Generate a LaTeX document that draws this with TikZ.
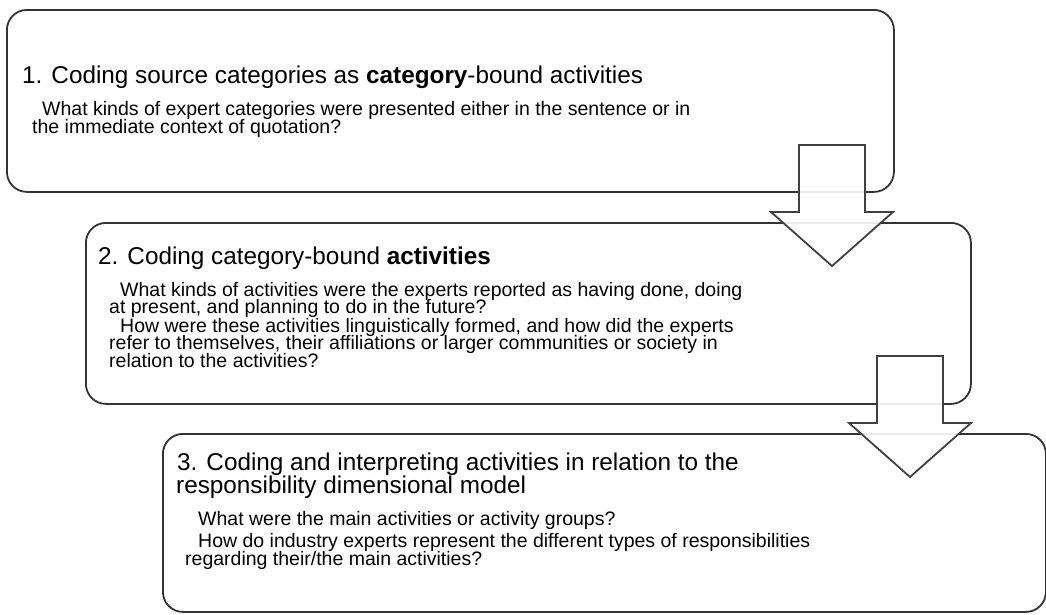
\documentclass[tikz,border=0pt]{standalone}
\usepackage{fontspec}
\setmainfont{Liberation Sans}
\usetikzlibrary{positioning}

\tikzset{
  stage/.style={draw=black!80, line width=1.8pt, rounded corners=20pt, anchor=north west, inner sep=0pt},
  blockarrow/.style={draw=black!75, line width=1.8pt, fill=white, fill opacity=0.9},
  headtext/.style={anchor=base west, inner sep=0pt, font=\fontsize{24.3}{28}\selectfont},
  bodytext/.style={anchor=base west, inner sep=0pt, font=\fontsize{19.5}{22}\selectfont},
}

\begin{document}
\begin{tikzpicture}[x=1pt,y=-1pt]
\useasboundingbox (0,0) rectangle (1046,614);

% the three stages
\node[stage, minimum width=887pt, minimum height=182pt](box1) at (6,9){};
\node[stage, minimum width=885pt, minimum height=181pt](box2) at (85,222){};
\node[stage, minimum width=883pt, minimum height=178pt](box3) at (162,433){};

% stage 1
\node[headtext](h1) at (22,83){1. Coding source categories as \textbf{category}-bound activities};
\node[bodytext](q1a) at (42,115){What kinds of expert categories were presented either in the sentence or in};
\node[bodytext](q1b) at (32,133){the immediate context of quotation?};

% stage 2
\node[headtext](h2) at (98,264){2. Coding category-bound \textbf{activities}};
\node[bodytext](q2a) at (120,296){What kinds of activities were the experts reported as having done, doing};
\node[bodytext](q2b) at (109,313){at present, and planning to do in the future?};
\node[bodytext](q2c) at (120,332){How were these activities linguistically formed, and how did the experts};
\node[bodytext](q2d) at (109,349){refer to themselves, their affiliations or larger communities or society in};
\node[bodytext](q2e) at (109,367){relation to the activities?};

% stage 3
\node[headtext](h3a) at (177,470){3. Coding and interpreting activities in relation to the};
\node[headtext](h3b) at (176,493){responsibility dimensional model};
\node[bodytext](q3a) at (198,525){What were the main activities or activity groups?};
\node[bodytext](q3b) at (198,547){How do industry experts represent the different types of responsibilities};
\node[bodytext](q3c) at (185,565){regarding their/the main activities?};

% block arrows between the stages
\coordinate (arr1) at (832,145);
\coordinate (arr2) at (910,356);
\foreach \a in {arr1,arr2}
  \draw[blockarrow, shift={(\a)}] (-33,0) -- (33,0) -- (33,67) -- (61,67) -- (0,121) -- (-61,67) -- (-33,67) -- cycle;
\end{tikzpicture}
\end{document}
